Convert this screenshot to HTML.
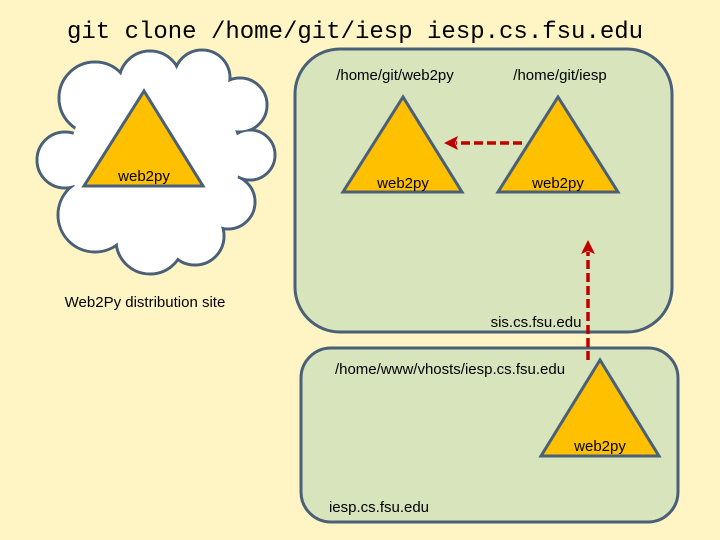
<!DOCTYPE html>
<html><head><meta charset="utf-8"><style>
html,body{margin:0;padding:0;background:#fff5c4;}
svg{display:block}
text{font-family:"Liberation Sans",sans-serif;font-size:15px;fill:#000}
</style></head><body>
<svg width="720" height="540" viewBox="0 0 720 540">
<rect width="720" height="540" fill="#fff5c4"/>
<text x="355" y="38" text-anchor="middle" style="font-family:'Liberation Mono',monospace;font-size:24px">git clone /home/git/iesp iesp.cs.fsu.edu</text>
<!-- cloud -->
<g stroke="#4a6078" stroke-width="3" fill="#fff">
<circle cx="95" cy="98" r="36"/>
<circle cx="150" cy="82" r="31"/>
<circle cx="202" cy="78" r="28"/>
<circle cx="240" cy="105" r="27"/>
<circle cx="250" cy="155" r="25"/>
<circle cx="228" cy="202" r="27"/>
<circle cx="195" cy="236" r="29"/>
<circle cx="150" cy="240" r="34"/>
<circle cx="95" cy="215" r="37"/>
<circle cx="65" cy="160" r="28"/>
</g>
<g fill="#fff">
<circle cx="95" cy="98" r="34.5"/>
<circle cx="150" cy="82" r="29.5"/>
<circle cx="202" cy="78" r="26.5"/>
<circle cx="240" cy="105" r="25.5"/>
<circle cx="250" cy="155" r="23.5"/>
<circle cx="228" cy="202" r="25.5"/>
<circle cx="195" cy="236" r="27.5"/>
<circle cx="150" cy="240" r="32.5"/>
<circle cx="95" cy="215" r="35.5"/>
<circle cx="65" cy="160" r="26.5"/>
<circle cx="155" cy="158" r="85"/>
</g>
<g fill="#ffc000" stroke="#4a6078" stroke-width="3" stroke-linejoin="miter">
<polygon points="144,91 84,186 203,186"/>
</g>
<text x="144" y="181" text-anchor="middle">web2py</text>
<text x="145" y="307" text-anchor="middle">Web2Py distribution site</text>
<!-- top box -->
<rect x="295" y="49" width="377" height="283" rx="45" fill="#d8e4bc" stroke="#4a6078" stroke-width="3"/>
<text x="395" y="80" text-anchor="middle">/home/git/web2py</text>
<text x="560" y="80" text-anchor="middle">/home/git/iesp</text>
<g fill="#ffc000" stroke="#4a6078" stroke-width="3">
<polygon points="403,97 343,192 462,192"/>
<polygon points="558,97 498,192 618,192"/>
</g>
<text x="403" y="188" text-anchor="middle">web2py</text>
<text x="558" y="188" text-anchor="middle">web2py</text>
<text x="536" y="327" text-anchor="middle">sis.cs.fsu.edu</text>
<!-- bottom box -->
<rect x="301" y="348" width="377" height="174" rx="30" fill="#d8e4bc" stroke="#4a6078" stroke-width="3"/>
<text x="450" y="374" text-anchor="middle">/home/www/vhosts/iesp.cs.fsu.edu</text>
<g fill="#ffc000" stroke="#4a6078" stroke-width="3">
<polygon points="600,360 541,456 659,456"/>
</g>
<text x="600" y="451" text-anchor="middle">web2py</text>
<text x="379" y="512" text-anchor="middle">iesp.cs.fsu.edu</text>
<!-- arrows -->
<g stroke="#c00000" stroke-width="3.5" stroke-dasharray="9,4" fill="none">
<line x1="522" y1="143" x2="456" y2="143"/>
<line x1="588" y1="360" x2="588" y2="252"/>
</g>
<polygon points="444,143 458,136 455,143 458,150" fill="#c00000"/>
<polygon points="588,240 581,254 588,251 595,254" fill="#c00000"/>
</svg>
</body></html>
